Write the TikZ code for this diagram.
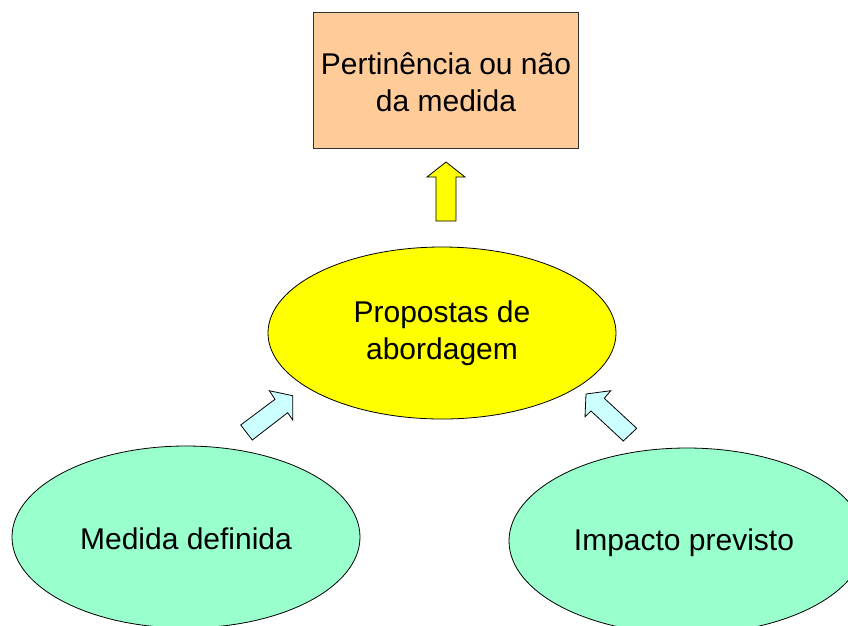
\documentclass[tikz,border=0pt]{standalone}
\usepackage{fontspec}
\setmainfont{Liberation Sans}
\usetikzlibrary{shapes.geometric}
\definecolor{peach}{HTML}{FFCC99}
\definecolor{yel}{HTML}{FFFF00}
\definecolor{mint}{HTML}{99FFCC}
\definecolor{paleblue}{HTML}{CCFFFF}
\begin{document}
\begin{tikzpicture}[x=1pt,y=-1pt,
  txt/.style={font=\fontsize{30}{37}\selectfont, align=center, text=black},
  oval/.style={ellipse, draw=black, line width=0.8pt, inner sep=0pt},
  blockarrow/.style={draw=black, line width=0.8pt, line join=miter}]
\useasboundingbox (0,0) rectangle (848,625);
\begin{scope}
\clip (0,0) rectangle (848,625);
% top rectangle
\node[draw=black!80, line width=0.8pt, fill=peach, minimum width=265pt, minimum height=136pt, inner sep=0pt] (res) at (445.5,80) {};
\node[txt] (restxt) at (446,82) {Pertinência ou não\\da medida};
% centre ellipse
\node[oval, fill=yel, minimum width=348pt, minimum height=172pt] (prop) at (442,333) {};
\node[txt] (proptxt) at (442,333) {Propostas de\\abordagem};
% bottom ellipses
\node[oval, fill=mint, minimum width=348pt, minimum height=182pt] (med) at (186,537) {};
\node[txt] (medtxt) at (186,539) {Medida definida};
\node[oval, fill=mint, minimum width=356pt, minimum height=186pt] (imp) at (687,541) {};
\node[txt] (imptxt) at (684,543) {Impacto previsto};
% yellow up arrow
\draw[blockarrow, fill=yel] (436,221) -- (436,177) -- (427,177) -- (446,162) -- (465,177) -- (456,177) -- (456,221) -- cycle;
% left cyan arrow
\draw[blockarrow, fill=paleblue] (240.7,425) -- (275,399.3) -- (269.3,390.7) -- (292.7,395.7) -- (292.7,420) -- (287.7,412.7) -- (252.3,440) -- cycle;
% right cyan arrow
\draw[blockarrow, fill=paleblue] (636.7,428.3) -- (604.3,398.3) -- (610.7,390.7) -- (586,394) -- (585,416.7) -- (591,411) -- (623.3,441) -- cycle;
\end{scope}
\end{tikzpicture}
\end{document}
